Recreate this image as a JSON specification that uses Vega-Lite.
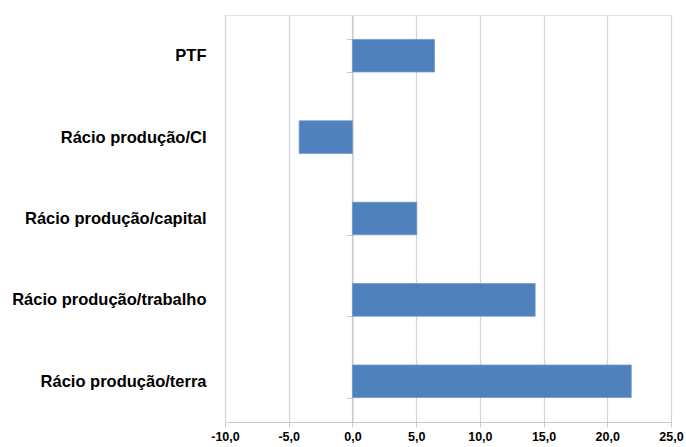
{
  "$schema": "https://vega.github.io/schema/vega-lite/v6.json",
  "autosize": {"type": "none"},
  "width": 446,
  "height": 407,
  "padding": {"left": 225, "top": 15, "right": 15, "bottom": 25},
  "background": "white",
  "config": {
    "view": {"stroke": "#e3e3e3", "strokeWidth": 1}
  },
  "data": {
    "values": [
      {"indicador": "PTF", "valor": 6.44},
      {"indicador": "Rácio produção/CI", "valor": -4.18},
      {"indicador": "Rácio produção/capital", "valor": 5.05},
      {"indicador": "Rácio produção/trabalho", "valor": 14.34},
      {"indicador": "Rácio produção/terra", "valor": 21.88}
    ]
  },
  "mark": {"type": "bar", "color": "#4F81BD", "stroke": "#6f98cc", "strokeWidth": 0.8},
  "encoding": {
    "y": {
      "field": "indicador",
      "type": "nominal",
      "sort": null,
      "scale": {"paddingInner": 0.6, "paddingOuter": 0.3},
      "axis": {
        "title": null,
        "orient": "left",
        "offset": -127.43,
        "domain": true,
        "domainColor": "#c8c8c8",
        "domainWidth": 1.2,
        "ticks": true,
        "tickBand": "extent",
        "tickSize": 6,
        "tickColor": "#c8c8c8",
        "labelPadding": 140.4,
        "labelFont": "Liberation Sans",
        "labelFontWeight": "bold",
        "labelFontSize": 16.5,
        "labelColor": "#000000",
        "labelLimit": 400,
        "grid": false
      }
    },
    "x": {
      "field": "valor",
      "type": "quantitative",
      "scale": {"domain": [-10, 25], "nice": false, "zero": false},
      "axis": {
        "title": null,
        "values": [-10, -5, 0, 5, 10, 15, 20, 25],
        "labelExpr": "replace(replace(format(datum.value, '.1f'), '.', ','), '\u2212', '-')",
        "labelFont": "Liberation Sans",
        "labelFontWeight": "bold",
        "labelFontSize": 12.5,
        "labelColor": "#000000",
        "labelPadding": 3,
        "labelFlush": false,
        "tickSize": 5,
        "tickColor": "#c8c8c8",
        "domainColor": "#c8c8c8",
        "grid": true,
        "gridColor": "#d4d4d4",
        "gridWidth": 1.2
      }
    }
  }
}
